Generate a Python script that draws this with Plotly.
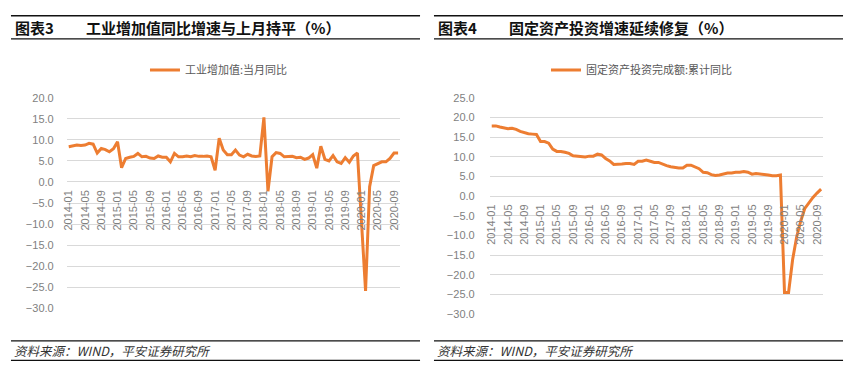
import plotly.graph_objects as go

W, H = 850, 376

# ---- data ----
months = [f"{y}-{m:02d}" for y in range(2014, 2021) for m in range(1, 13)][:82]
tick_labels = months[::4]

ip_yoy = [8.4, 8.6, 8.8, 8.7, 8.8, 9.2, 9.0, 6.9, 8.0, 7.7, 7.2, 7.9,
          9.6, 3.4, 5.6, 5.9, 6.1, 6.8, 6.0, 6.1, 5.7, 5.6, 6.2, 5.9,
          5.9, 4.8, 6.8, 6.0, 6.0, 6.2, 6.0, 6.3, 6.1, 6.1, 6.2, 6.0,
          2.8, 10.4, 7.6, 6.5, 6.5, 7.6, 6.4, 6.0, 6.6, 6.2, 6.1, 6.2,
          15.4, -2.2, 6.0, 7.0, 6.8, 6.0, 6.0, 6.1, 5.8, 5.9, 5.4, 5.7,
          6.5, 3.3, 8.5, 5.4, 5.0, 6.3, 4.8, 4.4, 5.8, 4.7, 6.2, 6.9,
          None, -25.9, -1.1, 3.9, 4.4, 4.8, 4.8, 5.6, 6.9, 6.9]

fai_ytd = [17.9, 17.9, 17.6, 17.3, 17.2, 17.3, 17.0, 16.5, 16.1, 15.9, 15.8, 15.7,
           13.9, 13.9, 13.5, 12.0, 11.4, 11.4, 11.2, 10.9, 10.3, 10.2, 10.2, 10.0,
           10.2, 10.2, 10.7, 10.5, 9.6, 9.0, 8.1, 8.1, 8.2, 8.3, 8.3, 8.1,
           8.9, 8.9, 9.2, 8.9, 8.6, 8.6, 8.3, 7.8, 7.5, 7.3, 7.2, 7.2,
           7.9, 7.9, 7.5, 7.0, 6.1, 6.0, 5.5, 5.3, 5.4, 5.7, 5.9, 5.9,
           6.1, 6.1, 6.3, 6.1, 5.6, 5.8, 5.7, 5.5, 5.4, 5.2, 5.2, 5.4,
           -24.5, -24.5, -16.1, -10.3, -6.3, -3.1, -1.6, -0.3, 0.8, 1.8]

left_name = "工业增加值:当月同比"
right_name = "固定资产投资完成额:累计同比"
left_title = "工业增加值同比增速与上月持平（%）"
right_title = "固定资产投资增速延续修复（%）"
source_text = "资料来源：WIND，平安证券研究所"

ORANGE = "#ED7D31"
GRID = "#D9D9D9"
TICK = "#7F7F7F"
CJK = "Noto Sans CJK SC"
NUM = "Liberation Sans"


def px(x):
    return x / W


def py(y):
    return 1 - y / H


fig = go.Figure()
fig.add_trace(go.Scatter(x=months, y=ip_yoy, mode="lines", name=left_name,
                         line=dict(color=ORANGE, width=3), connectgaps=True,
                         xaxis="x", yaxis="y", legend="legend"))
fig.add_trace(go.Scatter(x=months, y=fai_ytd, mode="lines", name=right_name,
                         line=dict(color=ORANGE, width=3),
                         xaxis="x2", yaxis="y2", legend="legend2"))

# panel geometry (pixels)
L = dict(x0=63, x1=398, top=95, bot=312, ymin=-30, ymax=20)
R = dict(x0=488, x1=823, top=95, bot=318.3, ymin=-30, ymax=25)


def zero_pos(p):
    ypix = p["top"] + (p["ymax"] - 0) / (p["ymax"] - p["ymin"]) * (p["bot"] - p["top"])
    return py(ypix)


common_x = dict(type="category", showgrid=False, zeroline=False, showline=False,
                ticks="", tickmode="array", tickvals=tick_labels, ticktext=tick_labels,
                tickangle=-90, tickfont=dict(family=NUM, size=11, color=TICK),
                anchor="free", ticklabelstandoff=5, fixedrange=True)
common_y = dict(showgrid=True, gridcolor=GRID, gridwidth=1, zeroline=False, showline=False,
                ticks="", dtick=5, tickformat=".1f",
                tickfont=dict(family=NUM, size=11, color=TICK), fixedrange=True)

fig.update_layout(
    width=W, height=H,
    margin=dict(l=0, r=0, t=0, b=0, pad=0),
    paper_bgcolor="white", plot_bgcolor="white",
    xaxis=dict(common_x, domain=[px(L["x0"]), px(L["x1"])], position=zero_pos(L),
               range=[-0.5, 81.5]),
    yaxis=dict(common_y, domain=[py(L["bot"]), py(L["top"])], range=[L["ymin"], L["ymax"]],
               anchor="x", tick0=0, ticklabelstandoff=12),
    xaxis2=dict(common_x, domain=[px(R["x0"]), px(R["x1"])], position=zero_pos(R),
                range=[-0.5, 81.5]),
    yaxis2=dict(common_y, domain=[py(R["bot"]), py(R["top"])], range=[R["ymin"], R["ymax"]],
                anchor="x2", tick0=0, ticklabelstandoff=14),
    legend=dict(x=px(216), y=py(66), xanchor="center", yanchor="middle",
                orientation="h", font=dict(family=CJK, size=11, color="#595959"),
                bgcolor="rgba(0,0,0,0)", itemwidth=30),
    legend2=dict(x=px(641), y=py(66), xanchor="center", yanchor="middle",
                 orientation="h", font=dict(family=CJK, size=11, color="#595959"),
                 bgcolor="rgba(0,0,0,0)", itemwidth=30),
    showlegend=True,
)

shapes = []
for (a, b) in [(7, 418), (432, 843)]:
    shapes.append(dict(type="line", xref="paper", yref="paper", x0=px(a), x1=px(b),
                       y0=py(10), y1=py(10), line=dict(color="#111111", width=1.5)))
    shapes.append(dict(type="line", xref="paper", yref="paper", x0=px(a), x1=px(b),
                       y0=py(34), y1=py(34), line=dict(color="#111111", width=1.2)))
    shapes.append(dict(type="line", xref="paper", yref="paper", x0=px(a), x1=px(b),
                       y0=py(346), y1=py(346), line=dict(color="#111111", width=1.2)))
    shapes.append(dict(type="line", xref="paper", yref="paper", x0=px(a), x1=px(b),
                       y0=py(366), y1=py(366), line=dict(color="#111111", width=1.2)))
fig.update_layout(shapes=shapes)

ann = []
for (xa, xb, lab, t) in [(9, 80, "图表3", left_title), (434, 505, "图表4", right_title)]:
    ann.append(dict(xref="paper", yref="paper", x=px(xa), y=py(22.5), xanchor="left",
                    yanchor="middle", showarrow=False, text=f"<b>{lab}</b>",
                    font=dict(family=CJK, size=15, color="#111111")))
    ann.append(dict(xref="paper", yref="paper", x=px(xb), y=py(22.5), xanchor="left",
                    yanchor="middle", showarrow=False, text=f"<b>{t}</b>",
                    font=dict(family=CJK, size=15, color="#111111")))
for xa in (8, 433):
    ann.append(dict(xref="paper", yref="paper", x=px(xa), y=py(356), xanchor="left",
                    yanchor="middle", showarrow=False, text=f"<i>{source_text}</i>",
                    font=dict(family=CJK, size=12.5, color="#333333")))
fig.update_layout(annotations=ann)

fig.write_html("out.html", config={"displayModeBar": False},
               post_script="document.body.style.margin='0';document.body.style.overflow='hidden';")
